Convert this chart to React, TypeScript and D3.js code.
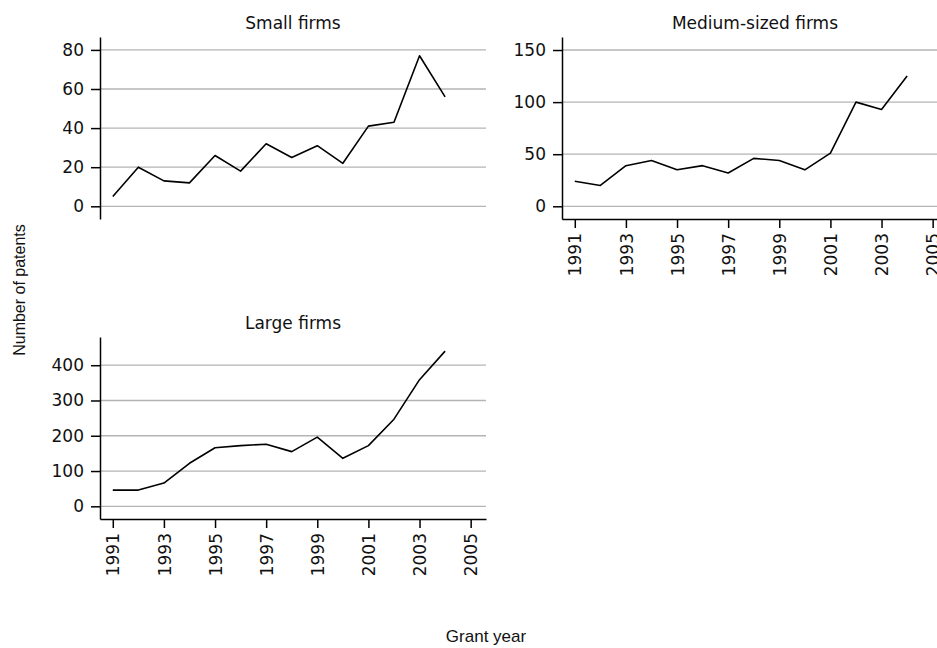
import { useRef, useEffect } from "react";
import * as d3 from "d3";

// Patents granted per year, by firm size
const years = [1991, 1992, 1993, 1994, 1995, 1996, 1997, 1998, 1999, 2000, 2001, 2002, 2003, 2004];
const smallFirms = [5, 20, 13, 12, 26, 18, 32, 25, 31, 22, 41, 43, 77, 56];
const mediumFirms = [24, 20, 39, 44, 35, 39, 32, 46, 44, 35, 51, 100, 93, 125];
const largeFirms = [46, 46, 66, 122, 166, 172, 176, 155, 196, 136, 172, 247, 359, 440];

const yearTicks = [1991, 1993, 1995, 1997, 1999, 2001, 2003, 2005];
const smallTicks = [0, 20, 40, 60, 80];
const mediumTicks = [0, 50, 100, 150];
const largeTicks = [0, 100, 200, 300, 400];

const WIDTH = 937;
const HEIGHT = 648;
const PANEL_W = 386;
const PANEL_H = 182;
const TICK_FONT = "'DejaVu Sans', Verdana, sans-serif";
const LABEL_FONT = "'Liberation Sans', Arial, sans-serif";

interface Panel {
  title: string;
  values: number[];
  ticks: number[];
  yDomain: [number, number];
  left: number;
  top: number;
  showX: boolean;
}

const panels: Panel[] = [
  { title: "Small firms", values: smallFirms, ticks: smallTicks, yDomain: [-6.5, 86.6], left: 100, top: 37, showX: false },
  { title: "Medium-sized firms", values: mediumFirms, ticks: mediumTicks, yDomain: [-12.2, 162.5], left: 562, top: 37, showX: true },
  { title: "Large firms", values: largeFirms, ticks: largeTicks, yDomain: [-36, 480], left: 100, top: 337, showX: true },
];

export default function App() {
  const svgRef = useRef<SVGSVGElement>(null);

  useEffect(() => {
    if (!svgRef.current) return;
    const svg = d3.select(svgRef.current);
    svg.selectAll("*").remove();

    const xScale = d3.scaleLinear().domain([1990.5, 2005.6]).range([0, PANEL_W]);

    panels.forEach(p => {
      const g = svg.append("g").attr("transform", `translate(${p.left},${p.top})`);
      const yScale = d3.scaleLinear().domain(p.yDomain).range([PANEL_H, 0]);

      // Grid lines
      g.append("g")
        .selectAll("line")
        .data(p.ticks)
        .join("line")
        .attr("x1", 0)
        .attr("x2", PANEL_W)
        .attr("y1", d => yScale(d))
        .attr("y2", d => yScale(d))
        .attr("stroke", "#b4b4b4")
        .attr("stroke-width", 1.3);

      // Series line
      const line = d3.line<number>()
        .x((_, i) => xScale(years[i]))
        .y(d => yScale(d));

      g.append("path")
        .datum(p.values)
        .attr("fill", "none")
        .attr("stroke", "#000")
        .attr("stroke-width", 1.6)
        .attr("stroke-linejoin", "round")
        .attr("d", line);

      // Y axis
      g.append("g")
        .call(d3.axisLeft(yScale).tickValues(p.ticks).tickSize(9).tickSizeOuter(0).tickPadding(7).tickFormat(d3.format("d")))
        .call(a => a.select(".domain").attr("stroke", "#000").attr("stroke-width", 1.5))
        .call(a => a.selectAll(".tick line").attr("stroke", "#000").attr("stroke-width", 1.5))
        .call(a => a.selectAll(".tick text")
          .attr("fill", "#111")
          .attr("font-size", "17px")
          .attr("font-family", TICK_FONT));

      // X axis
      if (p.showX) {
        g.append("g")
          .attr("transform", `translate(0,${PANEL_H})`)
          .call(d3.axisBottom(xScale).tickValues(yearTicks).tickSize(9).tickSizeOuter(0).tickFormat(d3.format("d")))
          .call(a => a.select(".domain").attr("stroke", "#000").attr("stroke-width", 1.5))
          .call(a => a.selectAll(".tick line").attr("stroke", "#000").attr("stroke-width", 1.5))
          .call(a => a.selectAll(".tick text")
            .attr("transform", "rotate(-90)")
            .attr("x", -14)
            .attr("y", 0)
            .attr("dy", "0.36em")
            .attr("text-anchor", "end")
            .attr("fill", "#111")
            .attr("font-size", "17px")
            .attr("font-family", TICK_FONT));
      }

      // Panel title
      g.append("text")
        .attr("x", PANEL_W / 2)
        .attr("y", -8)
        .attr("text-anchor", "middle")
        .attr("fill", "#111")
        .attr("font-size", "17px")
        .attr("font-family", TICK_FONT)
        .text(p.title);
    });

    // Shared axis titles
    svg.append("text")
      .attr("transform", "translate(25,290) rotate(-90)")
      .attr("text-anchor", "middle")
      .attr("fill", "#111")
      .attr("font-size", "16px")
      .attr("font-family", LABEL_FONT)
      .text("Number of patents");

    svg.append("text")
      .attr("x", 486)
      .attr("y", 642)
      .attr("text-anchor", "middle")
      .attr("fill", "#111")
      .attr("font-size", "17px")
      .attr("font-family", LABEL_FONT)
      .text("Grant year");
  }, []);

  return (
    <svg
      ref={svgRef}
      width={WIDTH}
      height={HEIGHT}
      viewBox={`0 0 ${WIDTH} ${HEIGHT}`}
      style={{ position: "absolute", left: 0, top: 0, background: "#fff" }}
    />
  );
}
